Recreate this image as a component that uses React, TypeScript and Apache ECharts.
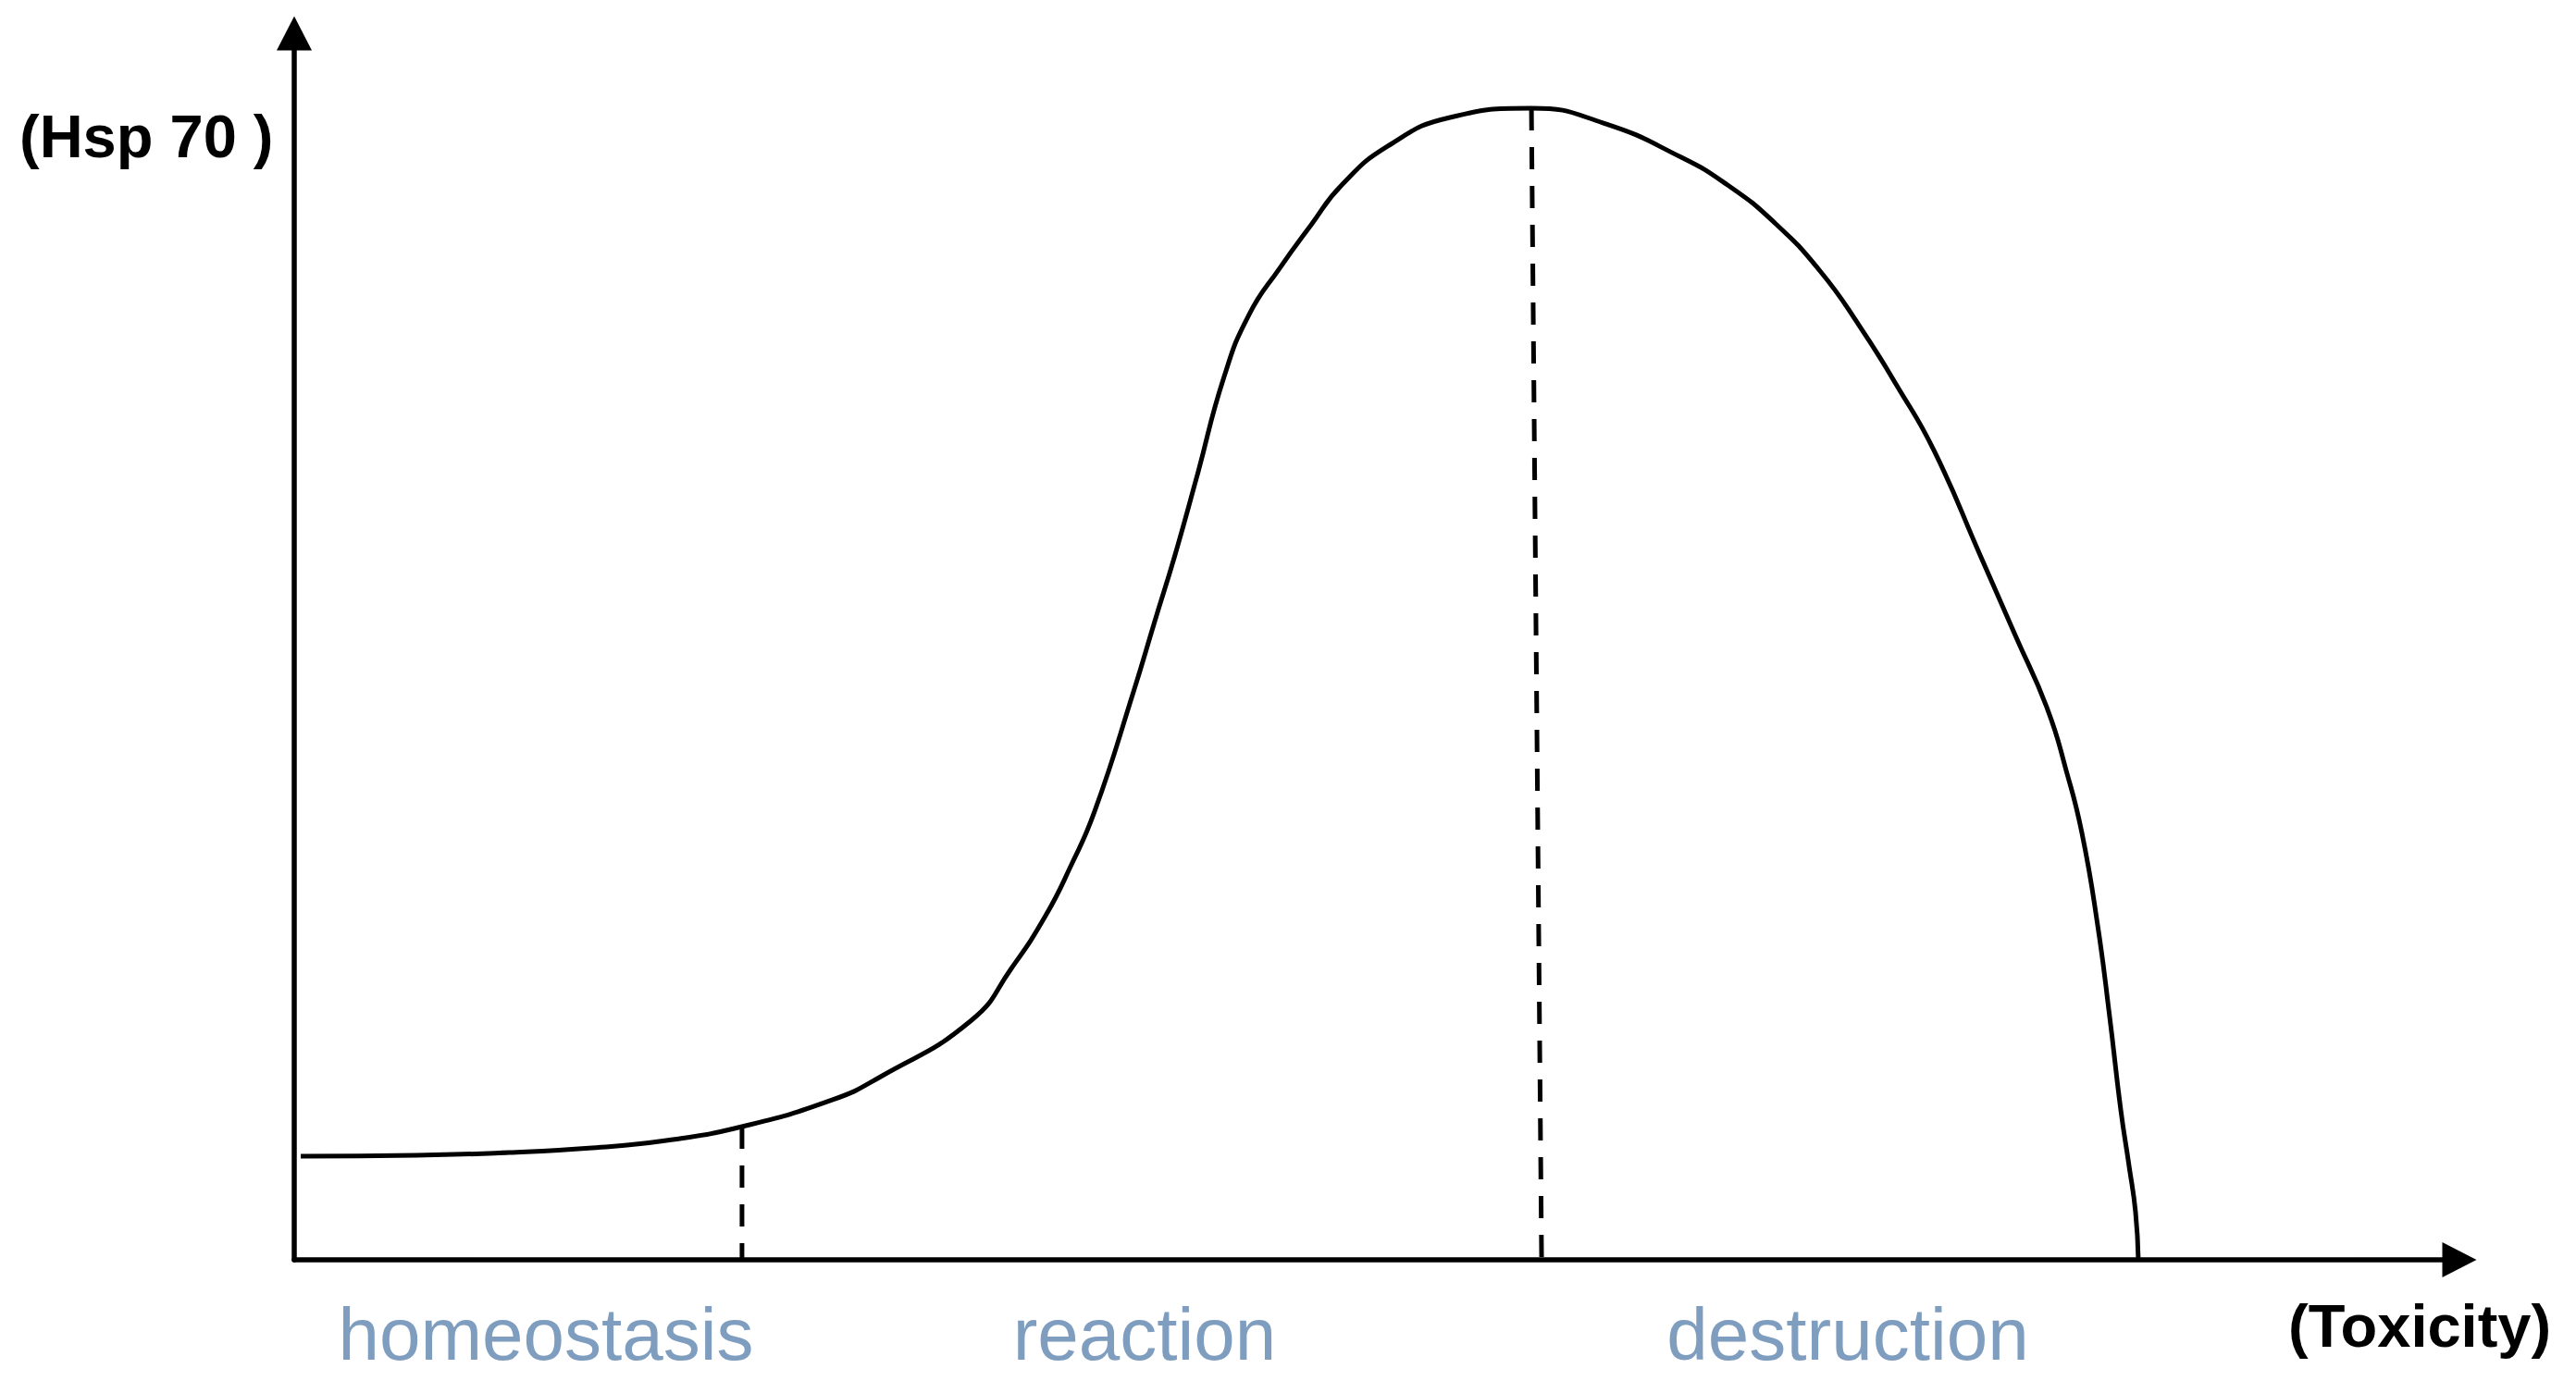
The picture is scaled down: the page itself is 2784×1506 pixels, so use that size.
import React, { useEffect, useRef } from "react";
import * as echarts from "echarts";

// Hsp70 response curve (x: toxicity, y: Hsp 70 level)
const curveX = [
  0.3, 5.64, 9.91, 13.76, 17.18, 20.68, 24.87, 27.01, 31.28, 33.12, 34.7, 35.85, 36.97,
  38.76, 39.74, 40.68, 41.67, 42.95, 44.1, 45.51, 46.97, 48.38, 50.51, 53.38, 57.14,
  60.47, 64.06, 66.2, 68.33, 70.47, 72.31, 74.02, 75.73, 77.86, 79.49, 80.98, 81.84,
  82.56, 83.29, 83.85, 84.36, 84.74, 85.04, 85.17,
];
const curveY = [
  8.45, 8.52, 8.75, 9.13, 9.73, 10.86, 13.05, 14.86, 19.53, 23.76, 28.05, 32.05, 36.58,
  46.3, 52.04, 57.47, 63.73, 72.02, 77.07, 80.84, 84.39, 87.63, 90.8, 93.14, 93.89,
  92.68, 89.89, 87.63, 84.62, 80.62, 76.09, 71.27, 65.99, 57.47, 50.9, 44.87, 39.89,
  34.84, 27.3, 19.76, 12.22, 7.69, 3.92, 0,
];

// dashed boundaries
const boundary1X = [20.68, 20.68];
const boundary1Y = [10.86, 0];
const boundary2X = [57.14, 57.61];
const boundary2Y = [93.89, 0];

const regionLabels = ["homeostasis", "reaction", "destruction"];
const yTitle = "(Hsp 70 )";
const xTitle = "(Toxicity)";

const zip = (xs: number[], ys: number[]) => xs.map((x, i) => [x, ys[i]]);

export default function App() {
  const ref = useRef<HTMLDivElement>(null);
  useEffect(() => {
    if (!ref.current) return;
    const chart = echarts.init(ref.current, null, { renderer: "svg" });
    const labelPos = [590, 1237, 1997];
    const blue = "#7f9dbf";
    const family = '"Liberation Sans", Arial, sans-serif';
    const axisLine = {
      show: true,
      onZero: false,
      symbol: ["none", "triangle"],
      symbolSize: [38, 37],
      lineStyle: { color: "#000", width: 5.5 },
    };
    chart.setOption({
      animation: false,
      backgroundColor: "#ffffff",
      grid: { left: 318, right: 126, top: 36, bottom: 144 },
      xAxis: {
        type: "value",
        min: 0,
        max: 100,
        axisLine,
        axisTick: { show: false },
        axisLabel: { show: false },
        splitLine: { show: false },
      },
      yAxis: {
        type: "value",
        min: 0,
        max: 100,
        axisLine,
        axisTick: { show: false },
        axisLabel: { show: false },
        splitLine: { show: false },
      },
      series: [
        {
          type: "line",
          data: zip(curveX, curveY),
          smooth: 0.5,
          symbol: "none",
          lineStyle: { color: "#000", width: 5 },
          z: 3,
        },
        {
          type: "line",
          data: zip(boundary1X, boundary1Y),
          symbol: "none",
          lineStyle: { color: "#000", width: 5, type: [24, 18] },
          z: 2,
        },
        {
          type: "line",
          data: zip(boundary2X, boundary2Y),
          symbol: "none",
          lineStyle: { color: "#000", width: 5, type: [24, 18] },
          z: 2,
        },
      ],
      graphic: [
        {
          type: "text",
          x: 21,
          y: 147,
          style: {
            text: yTitle,
            fontSize: 65,
            fontWeight: "bold",
            fontFamily: family,
            fill: "#000",
            align: "left",
            textAlign: "left",
            verticalAlign: "middle",
            textVerticalAlign: "middle",
          },
        },
        {
          type: "text",
          x: 2473,
          y: 1433,
          style: {
            text: xTitle,
            fontSize: 65,
            fontWeight: "bold",
            fontFamily: family,
            fill: "#000",
            align: "left",
            textAlign: "left",
            verticalAlign: "middle",
            textVerticalAlign: "middle",
          },
        },
        ...regionLabels.map((t, i) => ({
          type: "text",
          x: labelPos[i],
          y: 1442,
          style: {
            text: t,
            fontSize: 80,
            fontFamily: family,
            fill: blue,
            align: "center",
            textAlign: "center",
            verticalAlign: "middle",
            textVerticalAlign: "middle",
          },
        })),
      ],
    });
    return () => chart.dispose();
  }, []);
  return (
    <div
      ref={ref}
      style={{ position: "absolute", left: 0, top: 0, width: 2784, height: 1506 }}
    />
  );
}
